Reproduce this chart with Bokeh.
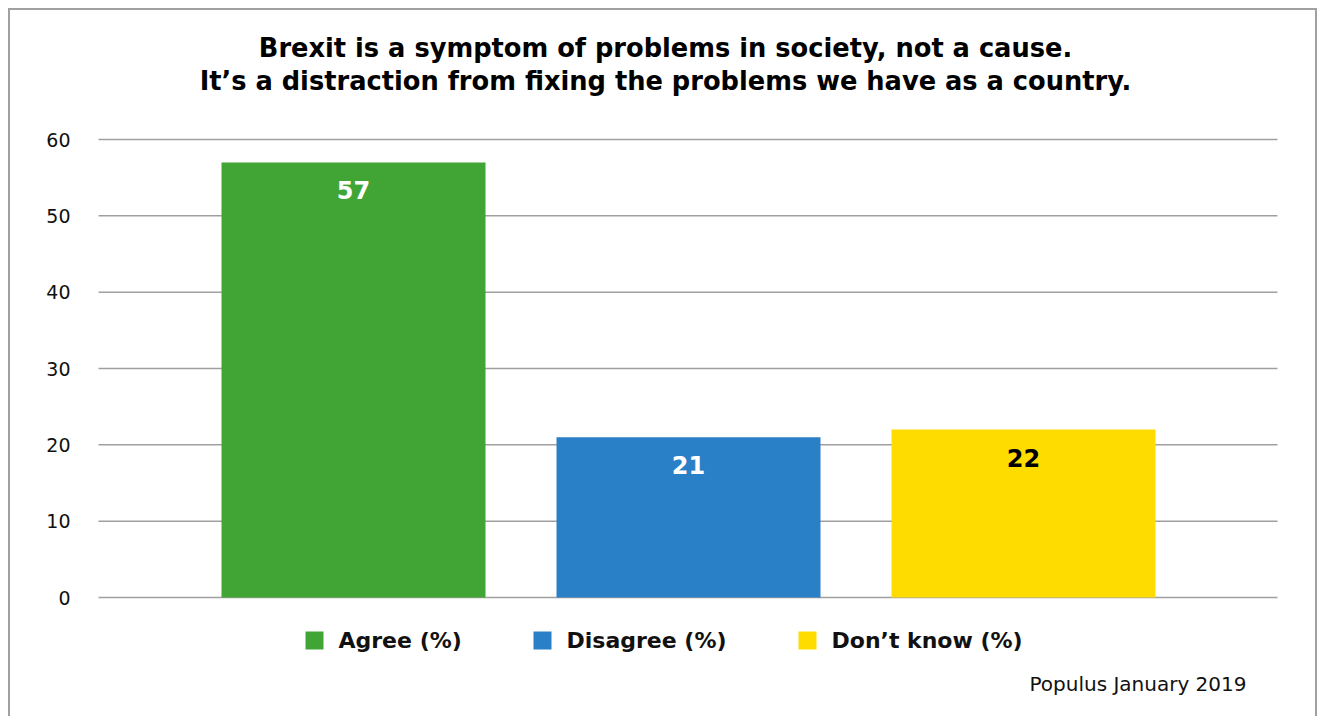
from bokeh.plotting import figure
from bokeh.models import ColumnDataSource, Range1d
from bokeh.core.properties import value
from bokeh.embed import file_html
from bokeh.resources import INLINE

categories = ["Agree (%)", "Disagree (%)", "Don't know (%)"]
legend_labels = ["Agree (%)", "Disagree (%)", "Don\u2019t know (%)"]
values = [57, 21, 22]
bar_labels = ["57", "21", "22"]
colors = ["#41a535", "#2a80c6", "#ffdc00"]
label_colors = ["#ffffff", "#ffffff", "#000000"]
y_ticks = [0, 10, 20, 30, 40, 50, 60]
y_tick_labels = ["0", "10", "20", "30", "40", "50", "60"]
title_lines = ["Brexit is a symptom of problems in society, not a cause.",
               "It\u2019s a distraction from fixing the problems we have as a country."]
source_note = "Populus January 2019"

FONT = "DejaVu Sans"

# ---- layout: pixel mapping (page px) ----
PX_X0, PX_STEP = 353.0, 335.0        # page x of first bar centre, px per category
PX_Y0, PX_PER_UNIT = 597.0, 458.0 / 60.0


def dx(px):
    return (px - PX_X0) / PX_STEP


def dy(py):
    return (PX_Y0 - py) / PX_PER_UNIT


CANVAS_L, CANVAS_T, W, H = 10, 10, 1309, 708

p = figure(width=W, height=H, output_backend="svg", toolbar_location=None,
           x_range=Range1d(dx(CANVAS_L), dx(CANVAS_L + W)),
           y_range=Range1d(dy(CANVAS_T + H), dy(CANVAS_T)),
           min_border=0, min_border_left=0, min_border_right=0,
           min_border_top=0, min_border_bottom=0)
p.title.visible = False
p.axis.visible = False
p.grid.visible = False
p.outline_line_color = None
p.styles = {"margin-top": "8px", "margin-left": "8px",
            "border-top": "2px solid #a0a0a0", "border-left": "2px solid #a0a0a0",
            "border-right": "2px solid #a0a0a0"}

# gridlines and y tick labels
n = len(y_ticks)
p.segment(x0=[dx(98)] * n, x1=[dx(1277)] * n, y0=y_ticks, y1=y_ticks,
          line_color="#a0a0a0", line_width=1.5)
p.text(x=[dx(70)] * n, y=y_ticks, text=y_tick_labels, text_align="right",
       text_baseline="middle", text_font=value(FONT), text_font_size="19px",
       text_color="#111111")

# bars
src = ColumnDataSource(dict(x=list(range(len(categories))), top=values, color=colors,
                            lab=bar_labels, lab_color=label_colors))
p.vbar(x="x", top="top", width=264 / PX_STEP, bottom=0, color="color",
       line_color=None, source=src)
p.text(x="x", y="top", text="lab", text_color="lab_color", source=src,
       text_font=value(FONT), text_font_style="bold", text_font_size="24px",
       text_align="center", text_baseline="middle", y_offset=28)

# legend (manual)
leg_x = [dx(314), dx(542), dx(807)]
leg_y = [dy(640)] * 3
p.scatter(x=leg_x, y=leg_y, marker="square", size=18, color=colors, line_color=None)
p.text(x=leg_x, y=leg_y, text=legend_labels, x_offset=24, text_align="left",
       text_baseline="middle", text_font=value(FONT), text_font_style="bold",
       text_font_size="22px", text_color="#111111")

# title
p.text(x=[dx(665)] * 2, y=[dy(47), dy(80)], text=title_lines, text_align="center",
       text_baseline="middle", text_font=value(FONT), text_font_style="bold",
       text_font_size="25.7px", text_color="#000000")

# source
p.text(x=[dx(1246)], y=[dy(683)], text=[source_note], text_align="right",
       text_baseline="middle", text_font=value(FONT), text_font_size="20px",
       text_color="#111111")

open("out.html", "w").write(file_html(p, INLINE))
